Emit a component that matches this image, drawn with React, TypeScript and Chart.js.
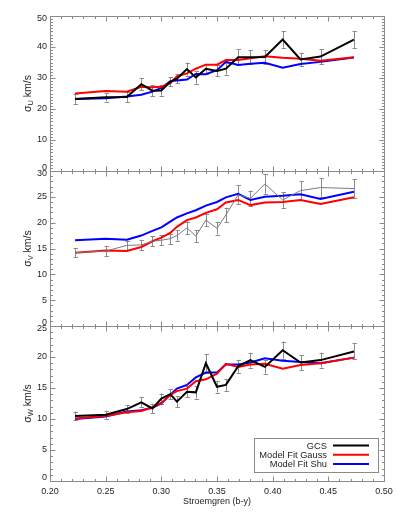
import React, { useEffect, useRef } from "react";
import { Chart, registerables } from "chart.js";

Chart.register(...registerables);

// ---------- data ----------
const colorIndex = [0.2225, 0.25, 0.269, 0.282, 0.292, 0.3, 0.308, 0.314, 0.323, 0.331, 0.34, 0.35, 0.358, 0.369, 0.38, 0.393, 0.409, 0.425, 0.443, 0.473];

const sigmaU_GCS = [23.2, 23.8, 23.9, 28.0, 25.9, 26.0, 28.8, 29.8, 32.9, 30.2, 33.0, 32.3, 33.0, 36.7, 36.7, 36.8, 42.4, 36.0, 36.9, 42.4];
const sigmaU_Err = [1.5, 1.4, 1.6, 1.9, 1.7, 1.7, 1.5, 1.5, 2.1, 2.0, 1.6, 1.8, 1.9, 2.5, 2.3, 2.2, 2.7, 2.2, 2.4, 2.7];
const sigmaU_Gauss = [25.0, 25.8, 25.6, 27.2, 27.0, 27.2, 28.3, 30.5, 31.5, 33.0, 34.3, 34.3, 35.8, 35.8, 36.4, 37.0, 36.5, 36.2, 35.6, 36.7];
const sigmaU_Shu = [23.2, 23.5, 24.0, 24.6, 25.6, 26.8, 29.0, 29.2, 29.5, 31.3, 31.2, 32.5, 35.2, 34.2, 34.6, 34.9, 33.3, 34.5, 35.2, 36.6];

const sigmaV_GCS = [14.2, 14.5, 15.6, 15.7, 16.4, 16.6, 16.9, 17.5, 19.0, 17.4, 20.5, 18.9, 21.5, 25.4, 24.7, 27.5, 24.4, 26.2, 26.8, 26.6];
const sigmaV_Err = [0.9, 1.0, 0.9, 1.0, 1.0, 1.0, 1.0, 1.0, 1.2, 1.2, 1.2, 1.2, 1.4, 1.8, 1.5, 1.9, 1.5, 1.8, 1.8, 1.8];
const sigmaV_Gauss = [14.2, 14.6, 14.5, 15.3, 16.4, 17.1, 18.0, 19.2, 20.5, 21.0, 21.9, 22.6, 23.9, 24.4, 23.4, 23.9, 24.0, 24.4, 23.6, 24.9];
const sigmaV_Shu = [16.6, 16.9, 16.7, 17.5, 18.4, 19.1, 20.2, 21.0, 21.8, 22.4, 23.3, 24.0, 24.9, 25.6, 24.4, 25.0, 25.2, 25.5, 24.6, 26.0];

const sigmaW_GCS = [10.5, 10.7, 11.6, 12.7, 11.7, 13.3, 14.0, 12.8, 14.4, 14.3, 19.0, 15.2, 15.5, 18.5, 19.5, 18.4, 21.1, 19.1, 19.5, 20.9];
const sigmaW_Err = [0.7, 0.65, 0.7, 0.8, 0.75, 0.8, 0.8, 0.9, 0.9, 1.0, 1.5, 0.95, 0.95, 1.05, 1.2, 1.1, 1.4, 1.2, 1.2, 1.3];
const sigmaW_Gauss = [10.1, 10.5, 11.1, 11.3, 11.9, 12.6, 13.9, 14.5, 14.9, 16.1, 16.4, 17.3, 18.9, 18.4, 18.8, 18.9, 18.1, 18.7, 19.0, 19.9];
const sigmaW_Shu = [10.0, 10.4, 11.2, 11.4, 11.8, 12.5, 13.9, 14.9, 15.5, 16.7, 17.5, 17.5, 18.8, 18.8, 19.1, 19.8, 19.4, 19.2, 19.0, 19.9];

const seriesLabels = ["GCS", "Model Fit Gauss", "Model Fit Shu"];
const xTitle = "Stroemgren (b-y)";
const yTitleSubs = ["U", "V", "W"];
const yTitleRest = " km/s";

// ---------- styles ----------
const FONT = "'Liberation Sans', Arial, Helvetica, sans-serif";
const TEXT = "#1e1e1e";
const FRAME = "#8a8a8a";
const ERRC = "#8c8c8c";

const panelDefs = [
  { id: "y1", max: 50, step: 10, gcs: sigmaU_GCS, err: sigmaU_Err, gauss: sigmaU_Gauss, shu: sigmaU_Shu, gcsColor: "#000000", gcsWidth: 2 },
  { id: "y2", max: 30, step: 5, gcs: sigmaV_GCS, err: sigmaV_Err, gauss: sigmaV_Gauss, shu: sigmaV_Shu, gcsColor: "#7a7a7a", gcsWidth: 1 },
  { id: "y3", max: 25, step: 5, gcs: sigmaW_GCS, err: sigmaW_Err, gauss: sigmaW_Gauss, shu: sigmaW_Shu, gcsColor: "#000000", gcsWidth: 2 },
];

const toXY = (ys: number[]) => colorIndex.map((x, i) => ({ x, y: ys[i] }));

const decorPlugin = {
  id: "decor",
  beforeDatasetsDraw(chart: any) {
    const ctx = chart.ctx;
    const xs = chart.scales.x;
    ctx.save();
    ctx.strokeStyle = ERRC;
    ctx.lineWidth = 1;
    panelDefs.forEach((p) => {
      const ys = chart.scales[p.id];
      colorIndex.forEach((x, i) => {
        const px = Math.round(xs.getPixelForValue(x)) + 0.5;
        const y0 = ys.getPixelForValue(p.gcs[i] - p.err[i]);
        const y1 = ys.getPixelForValue(p.gcs[i] + p.err[i]);
        ctx.beginPath();
        ctx.moveTo(px, y0);
        ctx.lineTo(px, y1);
        ctx.moveTo(px - 2, Math.round(y0) + 0.5);
        ctx.lineTo(px + 2.5, Math.round(y0) + 0.5);
        ctx.moveTo(px - 2, Math.round(y1) + 0.5);
        ctx.lineTo(px + 2.5, Math.round(y1) + 0.5);
        ctx.stroke();
      });
    });
    ctx.restore();
  },
  afterDraw(chart: any) {
    const ctx = chart.ctx;
    const xs = chart.scales.x;
    const L = chart.chartArea.left;
    const R = chart.chartArea.right;
    ctx.save();
    ctx.strokeStyle = FRAME;
    ctx.lineWidth = 1;
    panelDefs.forEach((p, pi) => {
      const ys = chart.scales[p.id];
      const T = Math.round(ys.top) + 0.5;
      const B = Math.round(ys.bottom) + 0.5;
      ctx.strokeStyle = FRAME;
      ctx.lineWidth = 1;
      ctx.strokeRect(Math.round(L) + 0.5, T, Math.round(R - L), B - T);
      ctx.beginPath();
      // x ticks, top and bottom, pointing inward
      for (let k = 20; k <= 50; k++) {
        const px = Math.round(xs.getPixelForValue(k / 100)) + 0.5;
        const len = k % 5 === 0 ? 5 : 2.5;
        ctx.moveTo(px, T);
        ctx.lineTo(px, T + len);
        ctx.moveTo(px, B);
        ctx.lineTo(px, B - len);
      }
      // y ticks, left and right, pointing inward
      for (let v = 0; v <= p.max; v++) {
        const py = Math.round(ys.getPixelForValue(v)) + 0.5;
        const len = v % p.step === 0 ? 5 : 2.5;
        ctx.moveTo(Math.round(L) + 0.5, py);
        ctx.lineTo(Math.round(L) + 0.5 + len, py);
        ctx.moveTo(Math.round(R) + 0.5, py);
        ctx.lineTo(Math.round(R) + 0.5 - len, py);
      }
      ctx.stroke();

      // y tick labels
      ctx.fillStyle = TEXT;
      ctx.font = `9px ${FONT}`;
      ctx.textAlign = "right";
      ctx.textBaseline = "middle";
      for (let v = 0; v <= p.max; v += p.step) {
        let py = ys.getPixelForValue(v);
        if (v === p.max) py += 3;
        if (v === 0) py -= 3;
        ctx.fillText(String(v), L - 3, py);
      }

      // y title with subscript
      const cy = (ys.top + ys.bottom) / 2;
      const mainFont = `10.5px ${FONT}`;
      const subFont = `7.5px ${FONT}`;
      ctx.font = mainFont;
      const wSig = ctx.measureText("σ").width;
      const wRest = ctx.measureText(yTitleRest).width;
      ctx.font = subFont;
      const wSub = ctx.measureText(yTitleSubs[pi]).width;
      const total = wSig + wSub + wRest;
      ctx.save();
      ctx.translate(27, cy);
      ctx.rotate(-Math.PI / 2);
      ctx.textAlign = "left";
      ctx.textBaseline = "alphabetic";
      let x0 = -total / 2;
      ctx.font = mainFont;
      ctx.fillText("σ", x0, 3.5);
      x0 += wSig;
      ctx.font = subFont;
      ctx.fillText(yTitleSubs[pi], x0, 6);
      x0 += wSub;
      ctx.font = mainFont;
      ctx.fillText(yTitleRest, x0, 3.5);
      ctx.restore();
    });

    // legend (bottom-right of last panel)
    const last = chart.scales[panelDefs[2].id];
    const bx1 = R - 6;
    const by1 = last.bottom - 9.5;
    const bx0 = bx1 - 124;
    const by0 = by1 - 33.5;
    ctx.fillStyle = "#ffffff";
    ctx.fillRect(Math.round(bx0) + 0.5, Math.round(by0) + 0.5, Math.round(bx1 - bx0), Math.round(by1 - by0));
    ctx.strokeStyle = FRAME;
    ctx.lineWidth = 1;
    ctx.strokeRect(Math.round(bx0) + 0.5, Math.round(by0) + 0.5, Math.round(bx1 - bx0), Math.round(by1 - by0));
    const ds = chart.data.datasets.filter((d: any) => d.yAxisID === panelDefs[2].id);
    ds.forEach((d: any, i: number) => {
      const ry = by0 + 7.5 + i * 9.2;
      ctx.font = `9.3px ${FONT}`;
      ctx.fillStyle = TEXT;
      ctx.textAlign = "right";
      ctx.textBaseline = "middle";
      ctx.fillText(d.label, bx0 + 73, ry + 0.5);
      ctx.strokeStyle = d.borderColor;
      ctx.lineWidth = 2;
      ctx.beginPath();
      ctx.moveTo(bx0 + 79, ry);
      ctx.lineTo(bx0 + 115, ry);
      ctx.stroke();
    });
    ctx.restore();
  },
};

export default function App() {
  const ref = useRef<HTMLCanvasElement | null>(null);

  useEffect(() => {
    if (!ref.current) return;
    const datasets: any[] = [];
    panelDefs.forEach((p) => {
      datasets.push({ label: seriesLabels[0], data: toXY(p.gcs), borderColor: p.gcsColor, borderWidth: p.gcsWidth, yAxisID: p.id, pointRadius: 0, tension: 0, fill: false });
      datasets.push({ label: seriesLabels[1], data: toXY(p.gauss), borderColor: "#ff0000", borderWidth: 2, yAxisID: p.id, pointRadius: 0, tension: 0, fill: false });
      datasets.push({ label: seriesLabels[2], data: toXY(p.shu), borderColor: "#0000ff", borderWidth: 2, yAxisID: p.id, pointRadius: 0, tension: 0, fill: false });
    });

    const yScale = (p: any) => ({
      type: "linear",
      position: "left",
      stack: "panels",
      stackWeight: 1,
      min: 0,
      max: p.max,
      ticks: { display: false, stepSize: p.step },
      grid: { display: false, drawTicks: false },
      border: { display: false },
      afterFit: (s: any) => {
        s.width = 50;
      },
    });

    const scales: any = {
      x: {
        type: "linear",
        min: 0.2,
        max: 0.5,
        ticks: {
          stepSize: 0.05,
          autoSkip: false,
          maxRotation: 0,
          padding: 5,
          color: TEXT,
          font: { family: FONT, size: 9 },
          callback: (v: any) => Number(v).toFixed(2),
        },
        grid: { display: false, drawTicks: false },
        border: { display: false },
        title: { display: true, text: xTitle, color: TEXT, font: { family: FONT, size: 9 }, padding: { top: 0, bottom: 6 } },
        afterFit: (s: any) => {
          s.height = 32;
        },
      },
    };
    // stacked scales are laid out bottom-to-top, so add the bottom panel first
    [...panelDefs].reverse().forEach((p) => {
      scales[p.id] = yScale(p);
    });

    const chart = new Chart(ref.current, {
      type: "line",
      data: { datasets },
      options: {
        responsive: false,
        animation: false,
        devicePixelRatio: 1,
        layout: { padding: { top: 16, right: 15, left: 0, bottom: 0 } },
        plugins: { legend: { display: false }, tooltip: { enabled: false } },
        scales,
      } as any,
      plugins: [decorPlugin],
    });
    return () => chart.destroy();
  }, []);

  return (
    <div style={{ position: "absolute", left: 0, top: 0, width: 399, height: 513, background: "#fff" }}>
      <canvas ref={ref} width={399} height={513} style={{ width: 399, height: 513, display: "block" }} />
    </div>
  );
}
